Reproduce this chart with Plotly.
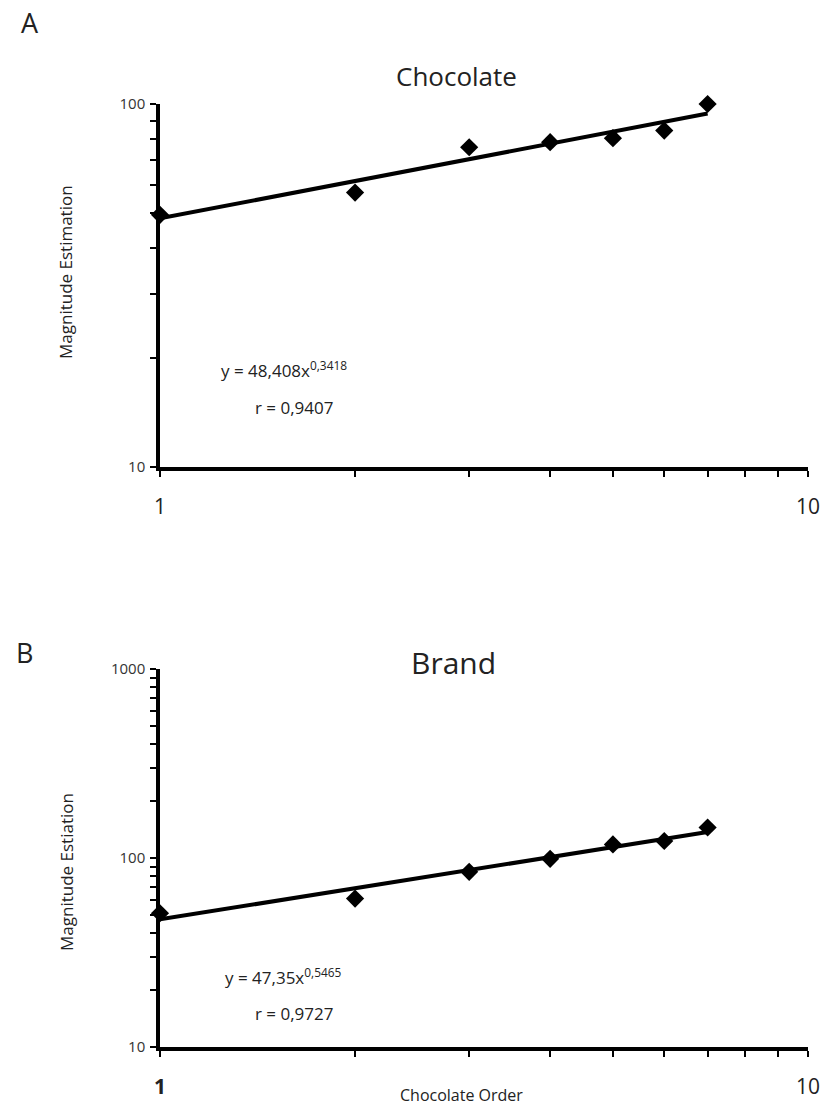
import plotly.graph_objects as go

# ---- data ----
order = [1, 2, 3, 4, 5, 6, 7]
chocolate_me = [49.5, 57, 76, 78.5, 80.5, 84.5, 100]
brand_me = [51, 61, 84.5, 99, 118, 123, 145]

fit_choc = (48.408, 0.3418)
fit_brand = (47.35, 0.5465)
fit_x = [1, 7]

x_tickvals = [1, 2, 3, 4, 5, 6, 7, 8, 9, 10]
x_ticktext_a = ["1", "", "", "", "", "", "", "", "", "10"]
x_ticktext_b = ["<b>1</b>", "", "", "", "", "", "", "", "", "10"]
ya_tickvals = [10, 20, 30, 40, 50, 60, 70, 80, 90, 100]
ya_ticktext = ["10", "", "", "", "", "", "", "", "", "100"]
yb_tickvals = [10, 20, 30, 40, 50, 60, 70, 80, 90, 100,
               200, 300, 400, 500, 600, 700, 800, 900, 1000]
yb_ticktext = ["10"] + [""] * 8 + ["100"] + [""] * 8 + ["1000"]

W, H = 835, 1110
FONT = "Open Sans"


def px(v):
    return v / W


def py(v):
    return 1 - v / H


fig = go.Figure()

for xa, ya, vals, fit in [("x", "y", chocolate_me, fit_choc), ("x2", "y2", brand_me, fit_brand)]:
    fig.add_trace(go.Scatter(x=order, y=vals, mode="markers", xaxis=xa, yaxis=ya,
                             marker=dict(symbol="diamond", size=14, color="black"),
                             showlegend=False, cliponaxis=False))
    fy = [fit[0] * xv ** fit[1] for xv in fit_x]
    fig.add_trace(go.Scatter(x=fit_x, y=fy, mode="lines", xaxis=xa, yaxis=ya,
                             line=dict(color="black", width=4),
                             showlegend=False, cliponaxis=False))

axis_common = dict(type="log", showline=True, linecolor="black", linewidth=3.5,
                   ticks="outside", tickcolor="black", tickwidth=2, ticklen=6,
                   showgrid=False, zeroline=False, mirror=False, automargin=False)

fig.update_layout(
    width=W, height=H, margin=dict(l=0, r=0, t=0, b=0),
    plot_bgcolor="white", paper_bgcolor="white",
    font=dict(family=FONT, color="#222"),
    xaxis=dict(axis_common, domain=[px(160), px(808)], range=[0, 1], anchor="y",
               tickmode="array", tickvals=x_tickvals, ticktext=x_ticktext_a,
               tickfont=dict(size=21, color="#222"), ticklabelstandoff=12),
    yaxis=dict(axis_common, domain=[py(467), py(104)], range=[1, 2], anchor="x",
               tickmode="array", tickvals=ya_tickvals, ticktext=ya_ticktext,
               tickfont=dict(size=15, color="#333"), ticklabelstandoff=2),
    xaxis2=dict(axis_common, domain=[px(160), px(808)], range=[0, 1], anchor="y2",
                tickmode="array", tickvals=x_tickvals, ticktext=x_ticktext_b,
                tickfont=dict(size=21, color="#222"), ticklabelstandoff=12),
    yaxis2=dict(axis_common, domain=[py(1047), py(669)], range=[1, 3], anchor="x2",
                tickmode="array", tickvals=yb_tickvals, ticktext=yb_ticktext,
                tickfont=dict(size=15, color="#333"), ticklabelstandoff=2),
)

ann = [
    dict(text="A", x=px(30), y=py(22), size=27),
    dict(text="B", x=px(24), y=py(652), size=27),
    dict(text="Chocolate", x=px(456), y=py(76), size=26),
    dict(text="Brand", x=px(453), y=py(662), size=30),
    dict(text="Magnitude Estimation", x=px(66), y=py(272), size=17, angle=-90),
    dict(text="Magnitude Estiation", x=px(66), y=py(872), size=17, angle=-90),
    dict(text="y = 48,408x<sup>0,3418</sup>", x=px(284), y=py(370), size=17),
    dict(text="r = 0,9407", x=px(294), y=py(407), size=17),
    dict(text="y = 47,35x<sup>0,5465</sup>", x=px(283), y=py(976), size=17),
    dict(text="r = 0,9727", x=px(294), y=py(1013), size=17),
    dict(text="Chocolate Order", x=px(462), y=py(1095), size=16),
]
for a in ann:
    fig.add_annotation(text=a["text"], x=a["x"], y=a["y"], xref="paper", yref="paper",
                       xanchor="center", yanchor="middle", showarrow=False,
                       textangle=a.get("angle", 0),
                       font=dict(family=FONT, size=a["size"], color="#222"))

fig.write_html("out.html", config={"displayModeBar": False},
               post_script="document.body.style.margin='0';document.body.style.overflow='hidden';")
